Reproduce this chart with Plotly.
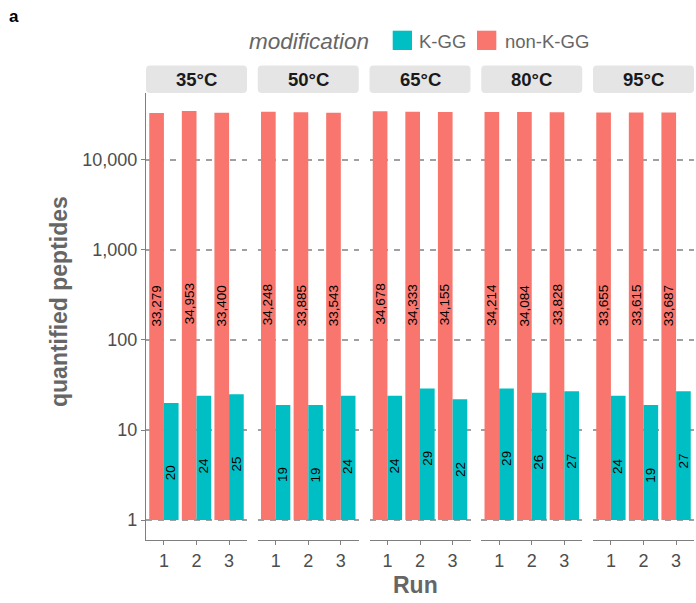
import math
import plotly.graph_objects as go
from plotly.subplots import make_subplots

# ---------------- data ----------------
temperatures = ["35°C", "50°C", "65°C", "80°C", "95°C"]
runs = [1, 2, 3]
non_kgg = [
    [33279, 34953, 33400],
    [34248, 33885, 33543],
    [34678, 34333, 34155],
    [34214, 34084, 33828],
    [33655, 33615, 33687],
]
kgg = [
    [20, 24, 25],
    [19, 19, 24],
    [24, 29, 22],
    [29, 26, 27],
    [24, 19, 27],
]
series_names = ["K-GG", "non-K-GG"]
ytick_vals = [1, 10, 100, 1000, 10000]
ytick_text = ["1", "10", "100", "1,000", "10,000"]

# ---------------- styling ----------------
COL = {"K-GG": "#00BFC4", "non-K-GG": "#F8766D"}
FONT = "Liberation Sans, Arial, sans-serif"
W, H = 696, 603
ML, MR, MT, MB = 146, 2, 93, 63
PW, PH = W - ML - MR, H - MT - MB


def px_x(p):
    return (p - ML) / PW


def px_y(p):
    return (H - MB - p) / PH


def rounded_rect(x0, x1, y0, y1, rx, ry):
    return (f"M{x0+rx},{y0} L{x1-rx},{y0} Q{x1},{y0} {x1},{y0+ry} "
            f"L{x1},{y1-ry} Q{x1},{y1} {x1-rx},{y1} L{x0+rx},{y1} "
            f"Q{x0},{y1} {x0},{y1-ry} L{x0},{y0+ry} Q{x0},{y0} {x0+rx},{y0} Z")


n = len(temperatures)
fig = make_subplots(rows=1, cols=n, shared_yaxes=True,
                    horizontal_spacing=10.75 / PW)

annotations = []
shapes = []
for i in range(n):
    c = i + 1
    xr = "x" if c == 1 else f"x{c}"
    yr = "y" if c == 1 else f"y{c}"
    fig.add_trace(go.Bar(x=runs, y=[v - 1 for v in non_kgg[i]], base=1,
                         name="non-K-GG", marker_color=COL["non-K-GG"],
                         marker_line_width=0, showlegend=False,
                         offsetgroup="a"), row=1, col=c)
    fig.add_trace(go.Bar(x=runs, y=[v - 1 for v in kgg[i]], base=1,
                         name="K-GG", marker_color=COL["K-GG"],
                         marker_line_width=0, showlegend=False,
                         offsetgroup="b"), row=1, col=c)
    # value labels
    for r, v in zip(runs, non_kgg[i]):
        annotations.append(dict(xref=xr, yref=yr, x=r - 0.225, y=math.log10(v),
                                xanchor="center", yanchor="middle",
                                yshift=-193, text=f"{v:,}", textangle=-90,
                                showarrow=False,
                                font=dict(family=FONT, size=13.5, color="#000")))
    for r, v in zip(runs, kgg[i]):
        annotations.append(dict(xref=xr, yref=yr, x=r + 0.225, y=math.log10(v),
                                xanchor="center", yanchor="middle",
                                yshift=-70, text=f"{v:,}", textangle=-90,
                                showarrow=False,
                                font=dict(family=FONT, size=13.5, color="#000")))
    # strip (rounded corners)
    dom = fig.layout["xaxis" if c == 1 else f"xaxis{c}"].domain
    shapes.append(dict(type="path", xref="paper", yref="paper",
                       path=rounded_rect(dom[0], dom[1], px_y(93), px_y(65.5),
                                         4 / PW, 4 / PH),
                       fillcolor="#E5E5E5", line=dict(width=0), layer="below"))
    annotations.append(dict(xref=f"{xr} domain", yref="paper", x=0.5, y=px_y(79.5),
                            xanchor="center", yanchor="middle",
                            text=f"<b>{temperatures[i]}</b>", showarrow=False,
                            font=dict(family=FONT, size=18.5, color="#1A1A1A")))
    # solid reference line at 1
    shapes.append(dict(type="line", xref=f"{xr} domain", yref=yr, x0=0, x1=1,
                       y0=math.log10(ytick_vals[0]), y1=math.log10(ytick_vals[0]),
                       line=dict(color="#8C8C8C", width=1.8), layer="above"))

    fig.update_xaxes(row=1, col=c, range=[0.45, 3.55], tickvals=runs,
                     ticks="outside", ticklen=4, tickcolor="#7F7F7F",
                     showline=True, linecolor="#7F7F7F", linewidth=1.3,
                     showgrid=False, zeroline=False,
                     tickfont=dict(family=FONT, size=18, color="#4D4D4D"))
    fig.update_yaxes(row=1, col=c, type="log", range=[-0.222, 4.744],
                     tickvals=ytick_vals, ticktext=ytick_text,
                     showgrid=True, gridcolor="#A0A0A0", gridwidth=1.6,
                     griddash="6px,6px", zeroline=False)
    if c == 1:
        fig.update_yaxes(row=1, col=c, showline=True, linecolor="#7F7F7F",
                         linewidth=1.3, ticks="outside", ticklen=4,
                         tickcolor="#7F7F7F",
                         tickfont=dict(family=FONT, size=18, color="#4D4D4D"))
    else:
        fig.update_yaxes(row=1, col=c, showticklabels=False, ticks="",
                         showline=False)

# axis titles
annotations.append(dict(xref="paper", yref="paper", x=px_x(59), y=px_y(302),
                        xanchor="center", yanchor="middle",
                        text="<b>quantified peptides</b>", textangle=-90,
                        showarrow=False,
                        font=dict(family=FONT, size=23, color="#666666")))
annotations.append(dict(xref="paper", yref="paper", x=px_x(415), y=px_y(585),
                        xanchor="center", yanchor="middle",
                        text="<b>Run</b>", showarrow=False,
                        font=dict(family=FONT, size=23, color="#666666")))
# panel tag
annotations.append(dict(xref="paper", yref="paper", x=px_x(7), y=px_y(16),
                        xanchor="left", yanchor="middle",
                        text="<b>a</b>", showarrow=False,
                        font=dict(family=FONT, size=17, color="#000")))

# manual legend
annotations.append(dict(xref="paper", yref="paper", x=px_x(247), y=px_y(41),
                        xanchor="left", yanchor="middle",
                        text="<i>modification</i>",
                        showarrow=False,
                        font=dict(family=FONT, size=22.5, color="#666666")))
legend_pos = {"K-GG": (392.7, 417), "non-K-GG": (477, 503)}
for name in series_names:
    kx, tx = legend_pos[name]
    shapes.append(dict(type="rect", xref="paper", yref="paper",
                       x0=px_x(kx), x1=px_x(kx + 19.3), y0=px_y(50), y1=px_y(30.7),
                       fillcolor=COL[name], line=dict(width=0)))
    annotations.append(dict(xref="paper", yref="paper", x=px_x(tx), y=px_y(41),
                            xanchor="left", yanchor="middle",
                            text=name, showarrow=False,
                            font=dict(family=FONT, size=18.5, color="#666666")))

fig.update_layout(
    width=W, height=H,
    margin=dict(l=ML, r=MR, t=MT, b=MB),
    paper_bgcolor="white", plot_bgcolor="white",
    barmode="group", bargap=0.1, bargroupgap=0,
    showlegend=False,
    annotations=annotations, shapes=shapes,
    font=dict(family=FONT),
)

fig.write_html("out.html")
